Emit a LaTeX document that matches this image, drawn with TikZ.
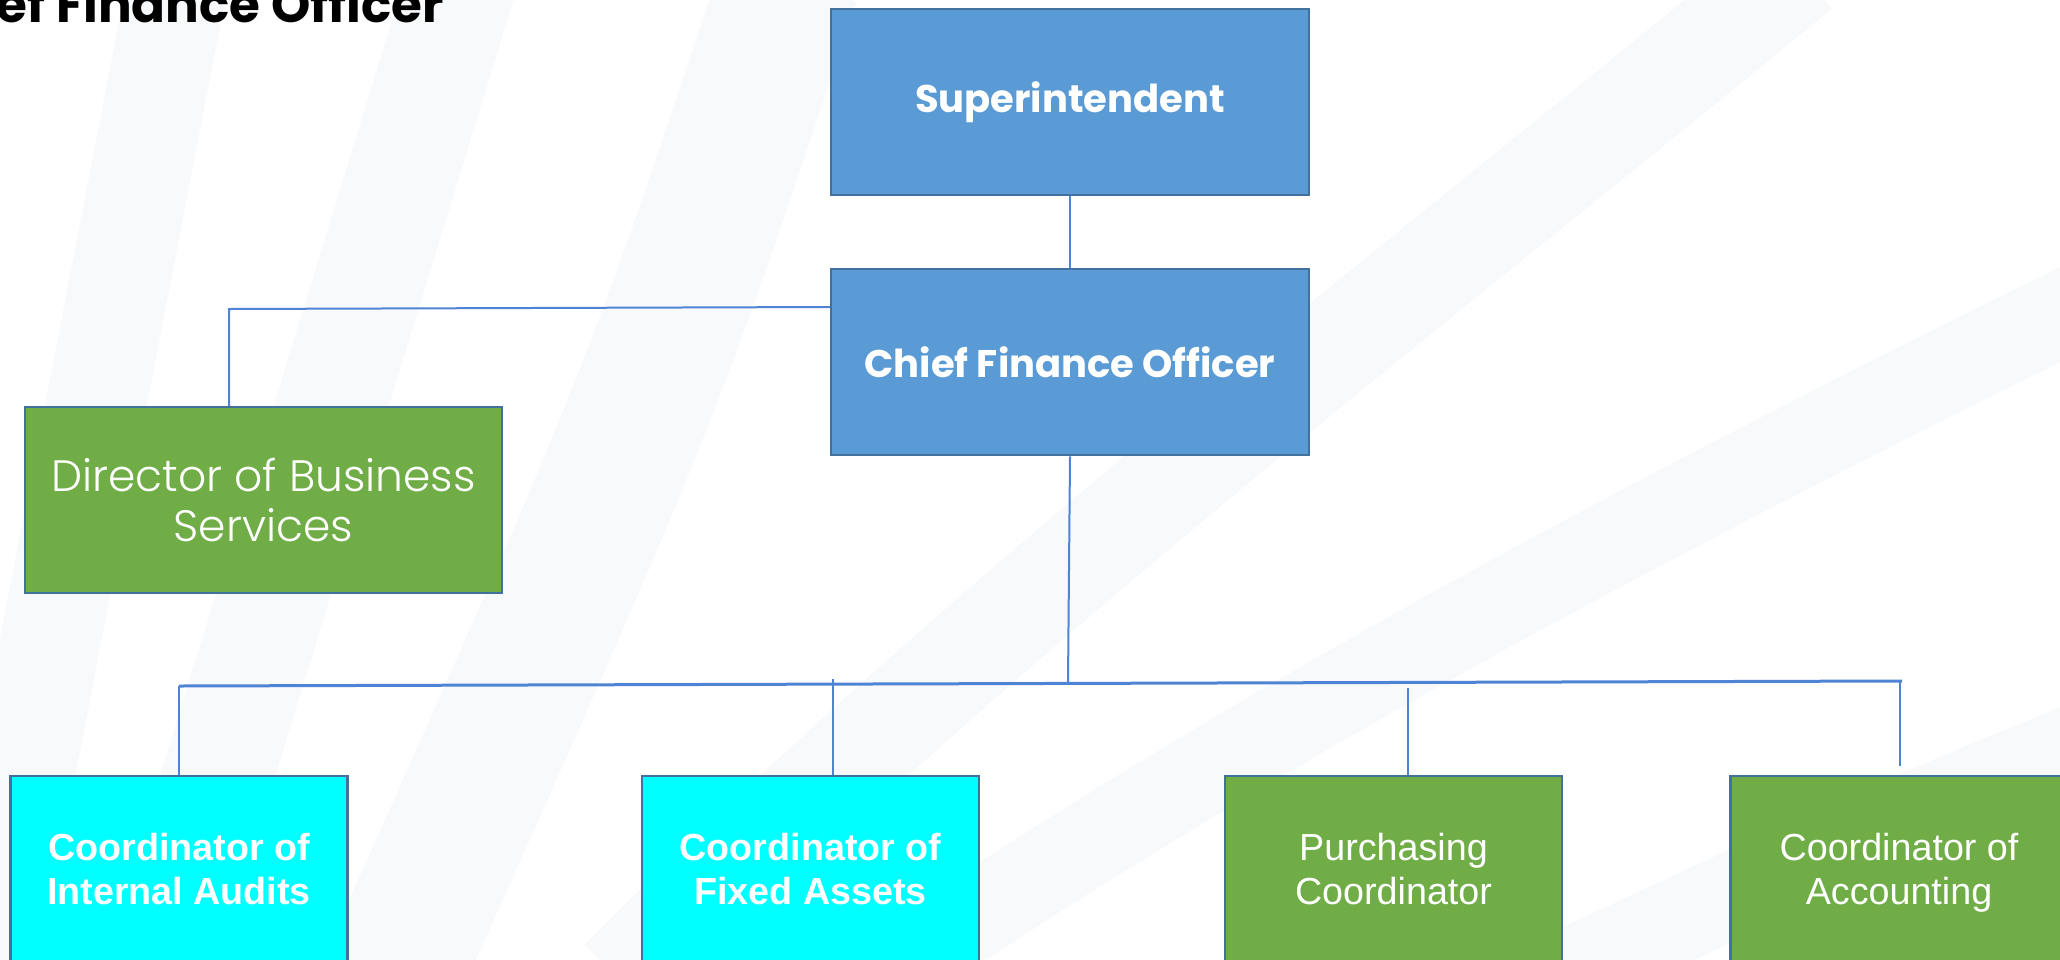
\documentclass[tikz,border=0pt]{standalone}
\usepackage{fontspec}
\usetikzlibrary{positioning}
\newfontfamily\headfont{Poppins}
\newfontfamily\thinfont{Poppins Light}
\newfontfamily\plainfont{Liberation Sans}
\definecolor{boxblue}{RGB}{91,155,213}
\definecolor{boxgreen}{RGB}{112,173,71}
\definecolor{boxcyan}{RGB}{0,255,255}
\definecolor{boxline}{RGB}{65,113,156}
\definecolor{linkblue}{RGB}{79,131,212}
\definecolor{stripe}{RGB}{248,249,251}

\begin{document}
\begin{tikzpicture}[x=1pt, y=-1pt,
    box/.style={draw=boxline, line width=2.5pt, inner sep=0pt,
        align=center, text=white, minimum height=186pt},
    bluebox/.style={box, fill=boxblue, minimum width=478pt,
        font={\headfont\bfseries\fontsize{38.5}{46}\selectfont}},
    dirbox/.style={box, fill=boxgreen, minimum width=477pt,
        font={\thinfont\fontsize{44}{50}\selectfont}},
    cyanbox/.style={box, fill=boxcyan, minimum width=337pt,
        font={\plainfont\bfseries\fontsize{37.7}{44}\selectfont}},
    greenbox/.style={box, fill=boxgreen, minimum width=337pt,
        font={\plainfont\fontsize{37.7}{44}\selectfont}},
    link/.style={draw=linkblue, line width=2pt},
    band/.style={draw=stripe, line cap=butt}]

    \useasboundingbox (0,0) rectangle (2060,959);
    \fill[white] (0,0) rectangle (2060,959);

    % faint background stripes
    \draw[band, line width=100pt] (178,-20) -- (-15,980);
    \draw[band, line width=110pt] (462,-20) -- (155,980);
    \draw[band, line width=140pt] (790,-20) .. controls (650,400) .. (390,980);
    \draw[band, line width=100pt] (1800,-30) .. controls (1400,300) and (1000,600) .. (620,980);
    \draw[band, line width=85pt] (2080,305) .. controls (1600,540) and (1200,760) .. (880,980);
    \draw[band, line width=85pt] (2080,745) .. controls (1850,840) .. (1550,980);

    \node[anchor=base east, inner sep=0pt,
        font={\headfont\bfseries\fontsize{50}{58}\selectfont}] (title) at (444,22) {Chief Finance Officer};

    \node[bluebox] (sup) at (1070,102) {Superintendent};
    \node[bluebox] (cfo) at (1070,362) {Chief Finance Officer};
    \node[dirbox] (dir) at (263.5,500) {Director of Business\\Services};

    \node[cyanbox] (audit) at (179,869) {Coordinator of\\Internal Audits};
    \node[cyanbox] (fixed) at (810.5,869) {Coordinator of\\Fixed Assets};
    \node[greenbox] (purch) at (1393.5,869) {Purchasing\\Coordinator};
    \node[greenbox] (acct) at (1899,869) {Coordinator of\\Accountin\smash{g}};

    \coordinate (cfol) at (830,307);
    \coordinate (dirknee) at (229,309);
    \coordinate (busl) at (179,686);
    \coordinate (busr) at (1902,681);
    \coordinate (busm) at (1068,682);
    \coordinate (fixtop) at (833,679);
    \coordinate (purtop) at (1408,688);
    \coordinate (acctop) at (1900,681);
    \coordinate (accbot) at (1900,766);

    \draw[link] (sup.south) -- (cfo.north);
    \draw[link] (cfol) -- (dirknee) -- (dirknee |- dir.north);
    \draw[link] (cfo.south) -- (busm);
    \draw[link, line width=3pt] (busl) -- (busr);
    \draw[link] (busl) -- (audit.north);
    \draw[link] (fixtop) -- (fixtop |- fixed.north);
    \draw[link] (purtop) -- (purtop |- purch.north);
    \draw[link] (acctop) -- (accbot);
\end{tikzpicture}
\end{document}
